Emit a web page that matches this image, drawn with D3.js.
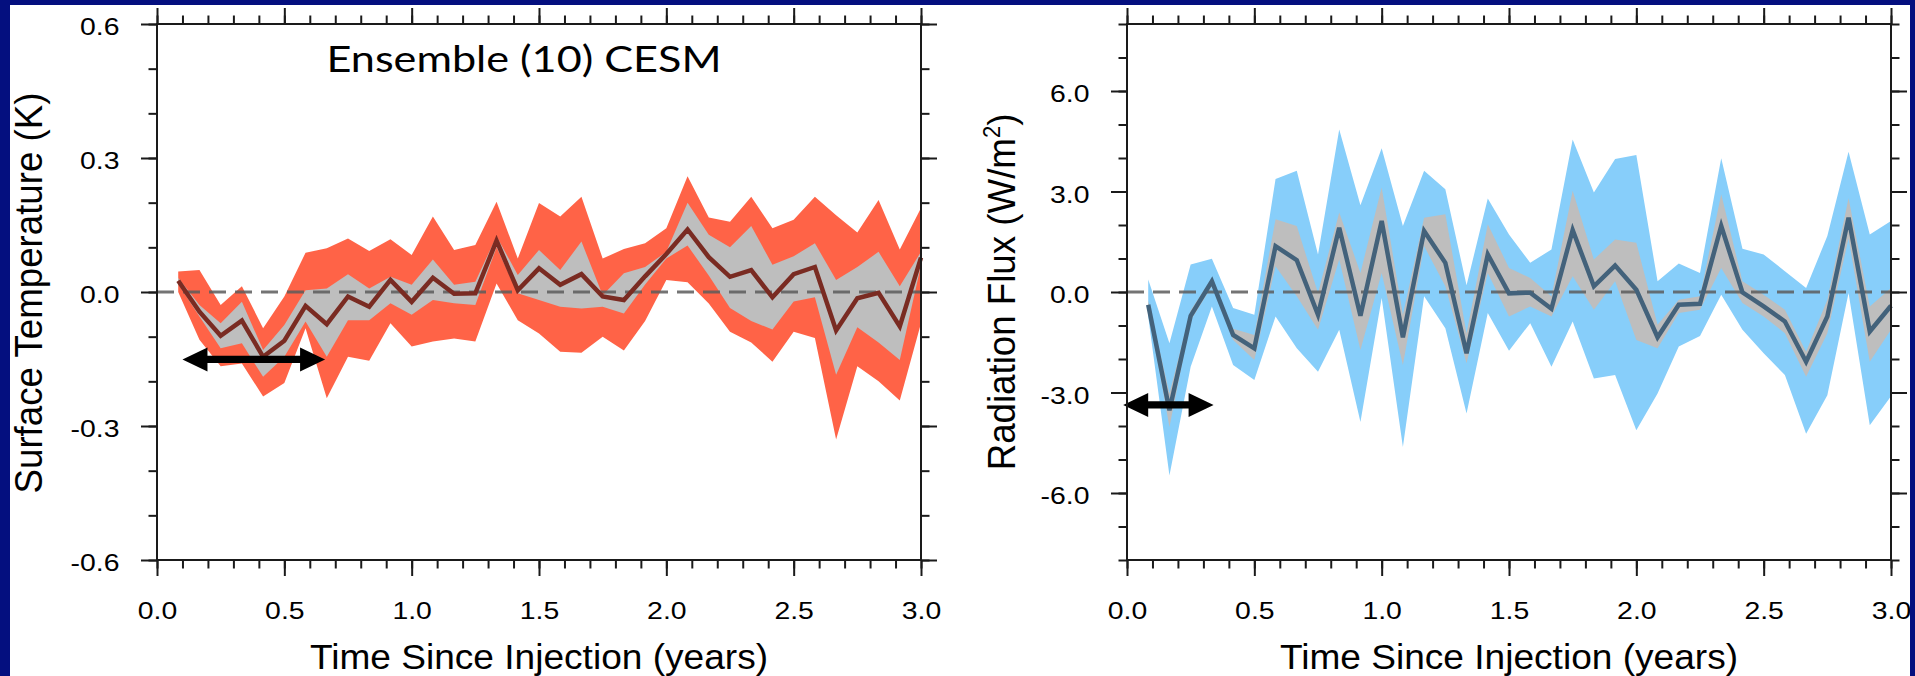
<!DOCTYPE html>
<html>
<head>
<meta charset="utf-8">
<script src="https://cdn.jsdelivr.net/npm/d3@7"></script>
<style>
  html, body { margin: 0; padding: 0; background: #ffffff; overflow: hidden; }
</style>
</head>
<body>
<div id="chart-area"></div>
<script>
// monthly means after injection, 10 member CESM ensemble
var months = [1,2,3,4,5,6,7,8,9,10,11,12,13,14,15,16,17,18,19,20,21,22,23,24,25,26,27,28,29,30,31,32,33,34,35,36];

var tempMean    = [0.025,-0.044,-0.098,-0.064,-0.145,-0.109,-0.031,-0.072,-0.010,-0.033,0.027,-0.022,0.032,-0.004,-0.003,0.115,0.004,0.053,0.016,0.040,-0.010,-0.018,0.035,0.085,0.140,0.078,0.034,0.049,-0.012,0.040,0.056,-0.086,-0.014,-0.002,-0.077,0.077];
var tempInnerHi = [0.032,-0.029,-0.070,-0.022,-0.130,-0.074,0.004,0.008,0.040,0.008,0.034,0.016,0.073,0.016,0.023,0.125,0.038,0.094,0.049,0.113,-0.007,0.042,0.056,0.090,0.200,0.128,0.100,0.148,0.061,0.080,0.109,0.027,0.056,0.090,0.013,0.090];
var tempInnerLo = [0.018,-0.055,-0.126,-0.115,-0.190,-0.145,-0.066,-0.145,-0.063,-0.063,-0.025,-0.051,-0.018,-0.025,-0.029,0.100,-0.003,-0.018,-0.033,-0.037,-0.033,-0.048,0.017,0.075,0.104,0.037,-0.036,-0.065,-0.084,-0.021,-0.012,-0.185,-0.079,-0.113,-0.152,0.060];
var tempOuterHi = [0.046,0.049,-0.029,0.013,-0.081,-0.010,0.088,0.098,0.120,0.092,0.118,0.083,0.169,0.094,0.105,0.202,0.075,0.199,0.169,0.213,0.075,0.096,0.109,0.143,0.259,0.167,0.157,0.213,0.143,0.162,0.213,0.172,0.133,0.206,0.095,0.188];
var tempOuterLo = [0.000,-0.107,-0.166,-0.160,-0.234,-0.204,-0.081,-0.238,-0.145,-0.154,-0.070,-0.122,-0.111,-0.104,-0.111,0.019,-0.063,-0.093,-0.134,-0.136,-0.100,-0.131,-0.065,0.027,0.022,-0.026,-0.089,-0.113,-0.156,-0.089,-0.103,-0.330,-0.166,-0.200,-0.243,-0.070];

var fluxMean    = [-0.38,-3.53,-0.71,0.32,-1.28,-1.68,1.37,0.95,-0.68,1.92,-0.71,2.12,-1.35,1.82,0.87,-1.83,1.12,-0.04,-0.02,-0.50,1.85,0.17,0.79,0.07,-1.35,-0.38,-0.35,1.97,-0.01,-0.43,-0.88,-2.08,-0.73,2.22,-1.18,-0.41];
var fluxInnerHi = [-0.25,-3.03,-0.55,0.42,-1.10,-1.28,2.17,1.97,-0.03,2.37,0.57,3.12,-0.68,2.22,2.32,-1.23,2.02,0.72,0.42,-0.13,3.02,0.97,1.57,1.47,-0.98,-0.23,-0.13,2.92,0.32,-0.08,-0.53,-1.78,-0.23,2.80,-0.43,0.12];
var fluxInnerLo = [-0.50,-4.03,-0.85,0.17,-1.43,-2.03,0.77,-0.13,-1.13,0.97,-1.73,0.57,-2.18,1.37,0.17,-2.13,0.57,-0.73,-0.43,-0.73,0.47,-0.53,0.32,-1.43,-1.68,-0.63,-0.53,0.72,-0.33,-0.73,-1.23,-2.53,-1.23,1.60,-2.08,-1.13];
var fluxOuterHi = [0.37,-1.53,0.82,0.99,-0.48,-0.68,3.37,3.62,1.12,4.85,2.59,4.29,1.97,3.62,3.07,0.20,2.79,1.72,0.87,1.27,4.55,2.97,3.97,4.09,0.32,0.85,0.57,3.99,1.29,1.12,0.62,0.12,1.67,4.19,1.72,2.12];
var fluxOuterLo = [-0.73,-5.48,-2.23,-0.43,-2.18,-2.63,-0.73,-1.68,-2.38,-1.13,-3.88,-0.18,-4.63,-0.13,-1.08,-3.63,-0.63,-1.75,-0.93,-2.23,-0.88,-2.58,-2.48,-4.13,-3.03,-1.63,-1.31,-0.08,-1.13,-1.83,-2.48,-4.23,-3.08,-0.03,-3.98,-3.11];

var xTicks = [0, 0.5, 1.0, 1.5, 2.0, 2.5, 3.0];
var tempTicks = [-0.6, -0.3, 0, 0.3, 0.6];
var fluxTicks = [-6, -3, 0, 3, 6];

// double arrows drawn on the panels (years, value)
var tempArrowX = [0.10, 0.66], tempArrowY = -0.151;
var fluxArrowX = [-0.015, 0.34], fluxArrowY = -3.37;

var W = 1915, H = 676;
var plotTop = 24, plotBottom = 560, plotW = 764;
var fontHelv = "'Liberation Sans', Arial, Helvetica, sans-serif";
var fmt = d => d.toFixed(1);   // plain hyphen, like the original

var svg = d3.select("#chart-area")
	.append("svg")
	.attr("width", W)
	.attr("height", H)

svg.append("rect").attr("width", W).attr("height", H).attr("fill", "#ffffff")

function rows(mean, iLo, iHi, oLo, oHi) {
	return months.map((m, i) => {
		return {t: m / 12, mean: mean[i], iLo: iLo[i], iHi: iHi[i], oLo: oLo[i], oHi: oHi[i]};
	});
}

function drawPanel(o) {
	var x = d3.scaleLinear().domain([0, 3]).range([o.left, o.left + plotW]);
	var y = d3.scaleLinear().domain(o.yDomain).range([plotBottom, plotTop]);
	var g = svg.append("g").attr("class", o.name)

	var outer = d3.area().x(d => x(d.t)).y0(d => y(d.oLo)).y1(d => y(d.oHi));
	var inner = d3.area().x(d => x(d.t)).y0(d => y(d.iLo)).y1(d => y(d.iHi));
	var line = d3.line().x(d => x(d.t)).y(d => y(d.mean));

	g.append("path").datum(o.data).attr("d", outer).attr("fill", o.bandColor)
	g.append("path").datum(o.data).attr("d", inner).attr("fill", "#bebebe")

	g.append("line")
		.attr("x1", x(0)).attr("x2", x(3))
		.attr("y1", y(0)).attr("y2", y(0))
		.attr("stroke", "#5c5c5c")
		.attr("stroke-opacity", 0.85)
		.attr("stroke-width", 3)
		.attr("stroke-dasharray", "17,9")

	g.append("path").datum(o.data)
		.attr("d", line)
		.attr("fill", "none")
		.attr("stroke", o.lineColor)
		.attr("stroke-width", 4.5)
		.attr("stroke-linejoin", "miter")

	// double headed arrow
	var ax0 = x(o.arrowX[0]), ax1 = x(o.arrowX[1]), ay = y(o.arrowY);
	var hl = 25, hh = 12, st = 3.6;
	var pts = [[ax0, ay], [ax0 + hl, ay - hh], [ax0 + hl, ay - st], [ax1 - hl, ay - st], [ax1 - hl, ay - hh],
		[ax1, ay], [ax1 - hl, ay + hh], [ax1 - hl, ay + st], [ax0 + hl, ay + st], [ax0 + hl, ay + hh]];
	g.append("path").attr("d", "M" + pts.join("L") + "Z").attr("fill", "#000000")

	// axes: ticks outward on all four sides
	var minorX = d3.range(0, 31).map(i => i / 10);
	var minorY = d3.range(Math.round(o.yDomain[0] / o.minorStep), Math.round(o.yDomain[1] / o.minorStep) + 1).map(i => i * o.minorStep);

	function axisG(axis, tx, ty) {
		var a = g.append("g")
			.attr("transform", "translate(" + tx + "," + ty + ")")
			.call(axis)
			.attr("font-family", fontHelv)
			.attr("font-size", 24.7);
		a.select(".domain").remove();
		a.selectAll("line").attr("stroke", "#1a1a1a").attr("stroke-width", 2);
		return a;
	}

	axisG(d3.axisBottom(x).tickValues(minorX).tickSize(8.5).tickFormat(""), 0, plotBottom)
	axisG(d3.axisTop(x).tickValues(minorX).tickSize(8.5).tickFormat(""), 0, plotTop)
	axisG(d3.axisTop(x).tickValues(xTicks).tickSize(16).tickFormat(""), 0, plotTop)
	axisG(d3.axisLeft(y).tickValues(minorY).tickSize(8.5).tickFormat(""), o.left, 0)
	axisG(d3.axisRight(y).tickValues(minorY).tickSize(8.5).tickFormat(""), o.left + plotW, 0)
	axisG(d3.axisRight(y).tickValues(o.yTicks).tickSize(16).tickFormat(""), o.left + plotW, 0)

	var bx = axisG(d3.axisBottom(x).tickValues(xTicks).tickSize(16).tickFormat(fmt), 0, plotBottom)
	bx.selectAll("text")
		.attr("y", 59).attr("dy", null)
		.attr("fill", "#000")
		.attr("transform", "scale(1.15,1)")

	var ly = axisG(d3.axisLeft(y).tickValues(o.yTicks).tickSize(16).tickFormat(fmt), o.left, 0)
	ly.selectAll("text")
		.attr("x", -37.5 / 1.15).attr("dy", null).attr("y", 10.5)
		.attr("fill", "#000")
		.attr("transform", "scale(1.15,1)")

	// frame
	g.append("rect")
		.attr("x", x(0)).attr("y", plotTop)
		.attr("width", x(3) - x(0)).attr("height", plotBottom - plotTop)
		.attr("fill", "none")
		.attr("stroke", "#1a1a1a")
		.attr("stroke-width", 2)

	// titles
	svg.append("text")
		.attr("transform", "translate(" + ((x(0) + x(3)) / 2) + ",669) scale(1.06,1)")
		.attr("text-anchor", "middle")
		.attr("font-family", fontHelv)
		.attr("font-size", 35)
		.text("Time Since Injection (years)")

	var yt = svg.append("text")
		.attr("transform", "translate(" + o.titleX + "," + o.titleY + ") scale(1.06,1) rotate(-90)")
		.attr("text-anchor", "middle")
		.attr("font-family", fontHelv)
		.attr("font-size", 36.7)
	yt.append("tspan").text(o.title)
	if (o.sup) {
		yt.append("tspan").attr("font-size", 22).attr("dy", -14).text(o.sup)
		yt.append("tspan").attr("dy", 14).text(")")
	}
}

drawPanel({
	name: "temperature", left: 157,
	yDomain: [-0.6, 0.6], yTicks: tempTicks, minorStep: 0.1,
	data: rows(tempMean, tempInnerLo, tempInnerHi, tempOuterLo, tempOuterHi),
	bandColor: "#ff6347", lineColor: "#7a2b22",
	arrowX: tempArrowX, arrowY: tempArrowY,
	titleX: 42, titleY: 293, title: "Surface Temperature (K)"
})

drawPanel({
	name: "flux", left: 1127,
	yDomain: [-8, 8], yTicks: fluxTicks, minorStep: 1,
	data: rows(fluxMean, fluxInnerLo, fluxInnerHi, fluxOuterLo, fluxOuterHi),
	bandColor: "#87cefa", lineColor: "#43627b",
	arrowX: fluxArrowX, arrowY: fluxArrowY,
	titleX: 1015, titleY: 292, title: "Radiation Flux (W/m", sup: "2"
})

svg.append("text")
	.attr("x", 524).attr("y", 72)
	.attr("text-anchor", "middle")
	.attr("font-family", "Lato, 'Open Sans', sans-serif")
	.attr("font-size", 36)
	.attr("textLength", 395)
	.attr("lengthAdjust", "spacingAndGlyphs")
	.attr("fill", "#000")
	.text("Ensemble (10) CESM")

// slide border
var navy = "#040f7f";
svg.append("rect").attr("x", 0).attr("y", 0).attr("width", W).attr("height", 5).attr("fill", navy)
svg.append("rect").attr("x", 0).attr("y", 0).attr("width", 10).attr("height", H).attr("fill", navy)
svg.append("rect").attr("x", 1910).attr("y", 0).attr("width", 5).attr("height", H).attr("fill", navy)
</script>
</body>
</html>
